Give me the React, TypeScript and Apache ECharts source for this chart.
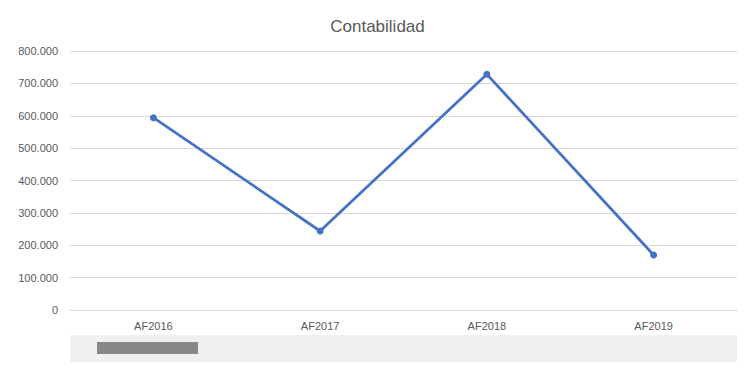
import React, { useEffect, useRef } from "react";
import * as echarts from "echarts";

const categories = ["AF2016", "AF2017", "AF2018", "AF2019"];
const values = [594000, 244000, 728000, 170000];
const titleText = "Contabilidad";

function fmt(v: number): string {
  return String(Math.round(v)).replace(/\B(?=(\d{3})+(?!\d))/g, ".");
}

export default function App() {
  const ref = useRef<HTMLDivElement>(null);
  useEffect(() => {
    if (!ref.current) return;
    const chart = echarts.init(ref.current, undefined, { renderer: "svg" });
    chart.setOption({
      animation: false,
      backgroundColor: "#ffffff",
      title: {
        text: titleText,
        left: "center",
        top: 13,
        textStyle: {
          fontFamily: "Liberation Sans",
          fontSize: 17,
          fontWeight: "normal",
          color: "#595959",
        },
      },
      grid: { left: 70, right: 18, top: 51, bottom: 66 },
      xAxis: {
        type: "category",
        data: categories,
        boundaryGap: true,
        axisLine: { lineStyle: { color: "#d9d9d9", width: 1 } },
        axisTick: { show: false },
        axisLabel: {
          color: "#595959",
          fontFamily: "Liberation Sans",
          fontSize: 11,
          margin: 10,
        },
      },
      yAxis: {
        type: "value",
        min: 0,
        max: 800000,
        interval: 100000,
        axisLine: { show: false },
        axisTick: { show: false },
        splitLine: { lineStyle: { color: "#d9d9d9", width: 1 } },
        axisLabel: {
          color: "#595959",
          fontFamily: "Liberation Sans",
          fontSize: 11,
          margin: 12,
          formatter: (v: number) => fmt(v),
        },
      },
      series: [
        {
          type: "line",
          data: values,
          lineStyle: { color: "#4472C4", width: 2.75 },
          itemStyle: { color: "#4472C4" },
          symbol: "circle",
          symbolSize: 7,
        },
      ],
      graphic: [
        {
          type: "rect",
          shape: { x: 70, y: 335, width: 667, height: 27 },
          style: { fill: "#f0f0f0" },
          silent: true,
        },
        {
          type: "rect",
          shape: { x: 97, y: 342, width: 101, height: 12 },
          style: { fill: "#888888" },
          silent: true,
        },
      ],
    });
    return () => chart.dispose();
  }, []);
  return (
    <div
      ref={ref}
      style={{ position: "fixed", left: 0, top: 0, width: 755, height: 376 }}
    />
  );
}
